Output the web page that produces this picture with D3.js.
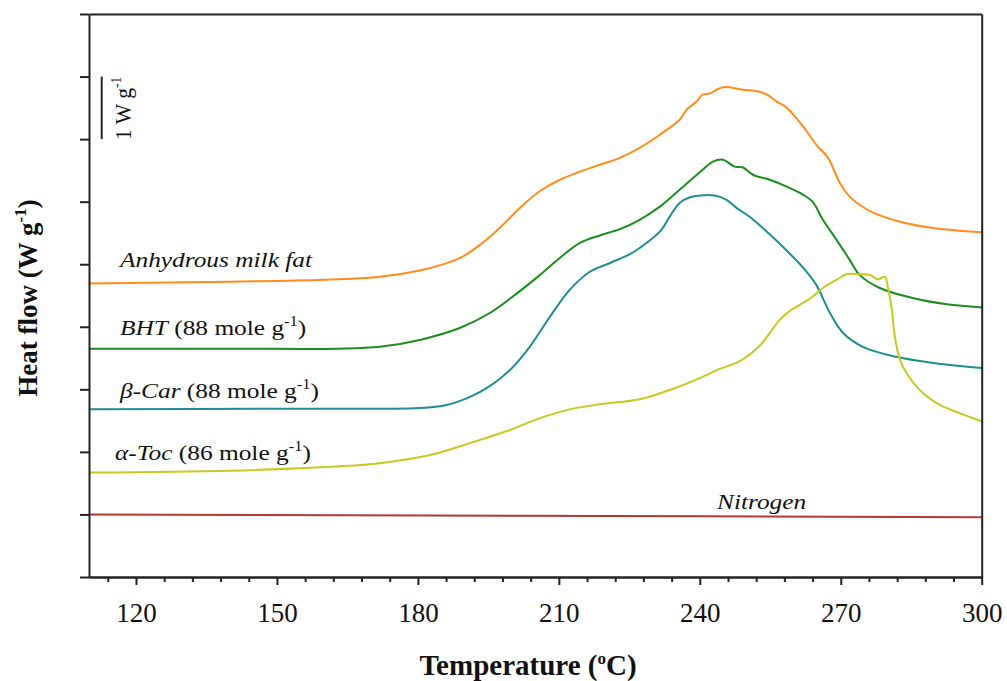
<!DOCTYPE html>
<html>
<head>
<meta charset="utf-8">
<script src="https://cdn.jsdelivr.net/npm/d3@7.9.0/dist/d3.min.js"></script>
<style>
  body { margin: 0; background: #fff; }
  svg { display: block; }
  svg text { font-family: "Liberation Serif", "Times New Roman", Times, Tinos, serif; }
</style>
</head>
<body>
<svg id="chart" width="1007" height="681"></svg>
<script>
// temperature (°C) ticks
const majorTicks = [120, 150, 180, 210, 240, 270, 300];
const minorTicks = [114, 126, 132, 138, 144, 156, 162, 168, 174, 186, 192, 198, 204, 216, 222, 228, 234, 246, 252, 258, 264, 276, 282, 288, 294];
const yTicks = [0, 1, 2, 3, 4, 5, 6, 7, 8, 9];

// heat flow curves, [temperature, offset heat flow in W/g]
const milkFat = [[110, 4.69], [140, 4.72], [160, 4.75], [172, 4.80], [180.4, 4.90], [185, 4.99], [189, 5.10], [193.2, 5.31],
  [197.4, 5.58], [201.7, 5.90], [206, 6.17], [210.2, 6.35], [214.5, 6.48], [218.7, 6.59], [223, 6.70], [227.2, 6.86],
  [231.5, 7.07], [235.7, 7.31], [237.2, 7.47], [239.3, 7.60], [240.6, 7.71], [242.1, 7.73], [244.9, 7.83], [249.1, 7.79],
  [252.5, 7.76], [254.3, 7.71], [256.4, 7.60], [258.5, 7.50], [262, 7.20], [264.9, 6.90], [267.3, 6.70], [269.8, 6.30],
  [271.9, 6.08], [274, 5.95], [277, 5.82], [282.6, 5.68], [289.6, 5.58], [300, 5.51]];

const bht = [[110, 3.65], [140, 3.65], [163, 3.65], [171.9, 3.68], [180.4, 3.79], [188.9, 3.98], [195.3, 4.22], [201.7, 4.57],
  [206, 4.83], [210.2, 5.10], [214.5, 5.34], [218.7, 5.46], [223, 5.56], [227.2, 5.71], [231.5, 5.92], [235.7, 6.19],
  [240, 6.47], [242.8, 6.64], [244.9, 6.67], [247.4, 6.56], [249.1, 6.55], [251.3, 6.43], [254.9, 6.35], [258.5, 6.24],
  [262, 6.11], [264, 6.00], [266.2, 5.71], [269.1, 5.39], [271.9, 5.07], [274, 4.83], [278.3, 4.62], [285.3, 4.46],
  [292.6, 4.36], [300, 4.31]];

const betaCar = [[110, 2.68], [150, 2.69], [171.9, 2.69], [180.4, 2.70], [186.1, 2.75], [191.1, 2.88], [195.3, 3.05],
  [199.6, 3.31], [203.8, 3.68], [208.1, 4.16], [212.3, 4.59], [216.6, 4.88], [220.9, 5.02], [225.1, 5.16], [227.2, 5.26],
  [231.5, 5.52], [233.6, 5.76], [235.7, 5.98], [237.9, 6.07], [240, 6.10], [243.2, 6.10], [245.7, 6.03], [247.8, 5.90],
  [250.6, 5.76], [253.4, 5.58], [256.3, 5.38], [259.8, 5.12], [262.5, 4.90], [264.8, 4.67], [267.7, 4.22], [270.5, 3.90],
  [274.7, 3.68], [281.8, 3.52], [288.9, 3.43], [300, 3.34]];

const alphaToc = [[110, 1.67], [140, 1.70], [163.4, 1.77], [171.9, 1.82], [182.6, 1.95], [191.1, 2.14], [199.6, 2.35],
  [206, 2.54], [212.3, 2.68], [218.7, 2.76], [227.2, 2.84], [233.6, 2.99], [240, 3.18], [244, 3.32], [248.5, 3.45],
  [252.8, 3.70], [257, 4.11], [259.1, 4.25], [261.3, 4.35], [264, 4.48], [266.2, 4.62], [269.1, 4.75], [271.2, 4.84],
  [274, 4.84], [276.2, 4.83], [277.9, 4.76], [279.4, 4.80], [280, 4.64], [280.8, 4.32], [281.5, 3.85], [282.6, 3.47],
  [284, 3.26], [286.8, 2.99], [291.1, 2.75], [295.3, 2.62], [300, 2.49]];

const nitrogen = [[110, 1.00], [200, 0.98], [300, 0.955]];

const series = [
  { name: "milkFat", data: milkFat, color: "#ff8c1c" },
  { name: "bht", data: bht, color: "#1e8c1e" },
  { name: "betaCar", data: betaCar, color: "#1f8e90" },
  { name: "alphaToc", data: alphaToc, color: "#c8c81f" },
  { name: "nitrogen", data: nitrogen, color: "#b23838" }
];

const svg = d3.select('#chart');
const x = d3.scaleLinear().domain([110, 300]).range([89, 981.7]);
const y = d3.scaleLinear().domain([0, 9]).range([577, 14]);

const line = d3.line()
  .x(d => x(d[0]))
  .y(d => y(d[1]))
  .curve(d3.curveCatmullRom.alpha(0.5));

series.forEach(s => {
  svg.append('path')
    .attr('d', line(s.data))
    .attr('fill', 'none')
    .attr('stroke', s.color)
    .attr('stroke-width', 2);
});

// frame
svg.append('g')
  .attr('transform', `translate(0,${y(9)})`)
  .call(d3.axisTop(x).tickValues([]).tickSizeOuter(0));
svg.append('g')
  .attr('transform', `translate(${x(300)},0)`)
  .call(d3.axisRight(y).tickValues([]).tickSizeOuter(0));

// left axis with unlabeled ticks
svg.append('g')
  .attr('transform', `translate(${x(110)},0)`)
  .call(d3.axisLeft(y).tickValues(yTicks).tickFormat('').tickSize(9).tickSizeOuter(0));

// bottom axis: minor then major ticks
svg.append('g')
  .attr('transform', `translate(0,${y(0)})`)
  .call(d3.axisBottom(x).tickValues(minorTicks).tickFormat('').tickSize(5).tickSizeOuter(0));
const xAxis = svg.append('g')
  .attr('transform', `translate(0,${y(0)})`)
  .call(d3.axisBottom(x).tickValues(majorTicks).tickSize(8).tickSizeOuter(0));
xAxis.attr('font-family', null);
xAxis.selectAll('text')
  .attr('dy', null)
  .attr('y', 45)
  .attr('font-size', 27)
  .attr('fill', '#111');

svg.selectAll('.domain, .tick line')
  .attr('stroke', '#222')
  .attr('stroke-width', 2);

// axis titles
const xt = svg.append('text')
  .attr('x', 528).attr('y', 675)
  .attr('text-anchor', 'middle')
  .attr('font-size', 29).attr('font-weight', 'bold').attr('fill', '#111');
xt.append('tspan').text('Temperature (');
xt.append('tspan').text('o').attr('font-size', 17).attr('dy', -11);
xt.append('tspan').text('C)').attr('dy', 11);

const yt = svg.append('text')
  .attr('transform', 'translate(37,298) rotate(-90)')
  .attr('text-anchor', 'middle')
  .attr('font-size', 27).attr('font-weight', 'bold').attr('fill', '#111');
yt.append('tspan').text('Heat flow (W g');
yt.append('tspan').text('-1').attr('font-size', 17).attr('dy', -11);
yt.append('tspan').text(')').attr('dy', 11);

// scale bar 1 W/g
svg.append('line')
  .attr('x1', 101.7).attr('x2', 101.7)
  .attr('y1', y(8)).attr('y2', y(7))
  .attr('stroke', '#222').attr('stroke-width', 2);
const sb = svg.append('text')
  .attr('transform', 'translate(131,140) rotate(-90) scale(0.9,1)')
  .attr('font-size', 24).attr('fill', '#111');
sb.append('tspan').text('1 W g');
sb.append('tspan').text('-1').attr('font-size', 15).attr('dy', -10);

// series labels
function seriesLabel(xp, yp, italicPart, rest) {
  const t = svg.append('text')
    .attr('transform', `translate(${xp},${yp}) scale(1.18,1)`)
    .attr('font-size', 21.5).attr('fill', '#111');
  t.append('tspan').text(italicPart).attr('font-style', 'italic');
  if (rest) {
    t.append('tspan').text(' (' + rest + ' mole g');
    t.append('tspan').text('-1').attr('font-size', 14).attr('dy', -9);
    t.append('tspan').text(')').attr('dy', 9);
  }
}
seriesLabel(120, 267, 'Anhydrous milk fat');
seriesLabel(120, 335, 'BHT', '88');
seriesLabel(120, 398, 'β-Car', '88');
seriesLabel(115, 460, 'α-Toc', '86');
seriesLabel(717, 509, 'Nitrogen');
</script>
</body>
</html>
